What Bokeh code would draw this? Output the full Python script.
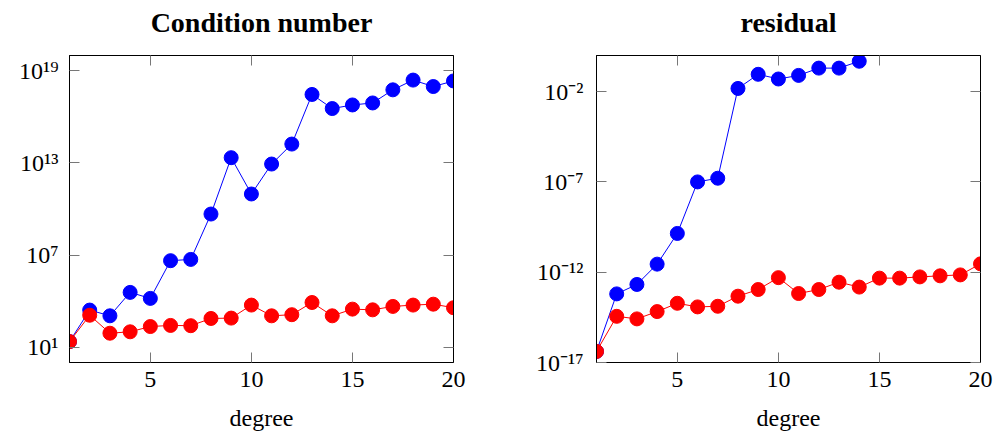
from bokeh.plotting import figure
from bokeh.layouts import row
from bokeh.models import FixedTicker, LinearAxis, LogAxis, Range1d
from bokeh.embed import file_html
from bokeh.resources import INLINE

degree = list(range(1, 21))

cond_blue = [2.3e1, 2.6e3, 1.1e3, 3.7e4, 1.5e4, 4.3e6, 5.2e6, 4.7e9, 2.2e13, 9.5e10,
             8.5e12, 1.7e14, 2.9e17, 3.5e16, 6.0e16, 8.1e16, 5.8e17, 2.5e18, 9.5e17, 2.2e18]
cond_red = [2.3e1, 1.2e3, 8.1e1, 1.0e2, 2.2e2, 2.6e2, 2.5e2, 7.4e2, 7.8e2, 5.5e3,
            1.1e3, 1.3e3, 8.1e3, 1.1e3, 3.0e3, 2.7e3, 4.5e3, 5.5e3, 6.3e3, 3.7e3]

res_degree_blue = list(range(1, 15))
res_blue = [4.1e-17, 6.3e-14, 2.1e-13, 2.8e-12, 1.4e-10, 1.0e-7, 1.6e-7, 1.5e-2, 9.1e-2,
            5.0e-2, 7.9e-2, 2.0e-1, 2.0e-1, 4.8e-1]
res_red = [4.1e-17, 3.6e-15, 2.6e-15, 6.6e-15, 1.9e-14, 1.2e-14, 1.3e-14, 4.7e-14, 1.1e-13,
           5.0e-13, 6.6e-14, 1.1e-13, 2.8e-13, 1.5e-13, 4.7e-13, 4.7e-13, 5.5e-13, 6.3e-13,
           7.1e-13, 2.9e-12]

x_ticks = [5, 10, 15, 20]
cond_ticks = [1e1, 1e7, 1e13, 1e19]
cond_tick_labels = ["10¹", "10⁷", "10¹³", "10¹⁹"]
res_ticks = [1e-17, 1e-12, 1e-7, 1e-2]
res_tick_labels = ["10⁻¹⁷", "10⁻¹²", "10⁻⁷", "10⁻²"]

FONT = "Liberation Serif"
TICK_FS = "24px"
TICK_COLOR = "#777777"


def style_axis(ax, show_labels=True, standoff=10):
    ax.major_tick_in = 10
    ax.major_tick_out = 0
    ax.minor_tick_in = 0
    ax.minor_tick_out = 0
    ax.major_tick_line_color = TICK_COLOR
    ax.axis_line_color = "black"
    ax.major_label_text_font = FONT
    if show_labels:
        ax.major_label_text_color = "black"
        ax.major_label_text_font_size = TICK_FS
        ax.major_label_standoff = standoff
    else:
        ax.major_label_text_color = None
        ax.major_label_text_font_size = "1px"
        ax.major_label_standoff = 0


def make_fig(title, width, border_left, border_right, yr, yticks, ylabels,
             xb, yb, xr, yrd, ystandoff):
    p = figure(width=width, height=434, y_axis_type="log",
               x_range=Range1d(1, 20), y_range=Range1d(*yr),
               output_backend="svg", toolbar_location=None,
               min_border_left=border_left, min_border_right=border_right,
               min_border_top=55, min_border_bottom=72)
    p.title = None
    p.grid.visible = False
    p.outline_line_color = "black"
    p.outline_line_alpha = 1.0
    p.background_fill_color = "white"
    p.border_fill_color = "white"

    p.xaxis.ticker = FixedTicker(ticks=x_ticks)
    p.xaxis.axis_label = "degree"
    p.xaxis.axis_label_text_font = FONT
    p.xaxis.axis_label_text_color = "black"
    p.xaxis.axis_label_text_font_size = TICK_FS
    p.xaxis.axis_label_text_font_style = "normal"
    p.xaxis.axis_label_standoff = 15
    style_axis(p.xaxis[0], standoff=9)

    p.yaxis.ticker = FixedTicker(ticks=yticks)
    p.yaxis.major_label_overrides = {t: l for t, l in zip(yticks, ylabels)}
    style_axis(p.yaxis[0], standoff=ystandoff)

    # mirrored top axis carries the panel title as its label
    top = LinearAxis(ticker=FixedTicker(ticks=x_ticks), axis_label=title)
    style_axis(top, show_labels=False)
    top.axis_label_text_font = FONT
    top.axis_label_text_color = "black"
    top.axis_label_text_font_size = "28px"
    top.axis_label_text_font_style = "bold"
    top.axis_label_standoff = 18
    p.add_layout(top, "above")
    right = LogAxis(ticker=FixedTicker(ticks=yticks))
    style_axis(right, show_labels=False)
    p.add_layout(right, "right")

    p.line(xb, yb, line_color="#0000ff", line_width=1)
    p.scatter(xb, yb, size=14, fill_color="#0000ff", line_color="#0000ff")
    p.line(xr, yrd, line_color="#ff0000", line_width=1)
    p.scatter(xr, yrd, size=14, fill_color="#ff0000", line_color="#ff0000")
    return p


p1 = make_fig("Condition number", 473, 69, 20, (1e0, 1e20), cond_ticks, cond_tick_labels,
              degree, cond_blue, degree, cond_red, 11)
p2 = make_fig("residual", 520, 123, 13, (1e-17, 1e0), res_ticks, res_tick_labels,
              res_degree_blue, res_blue, degree, res_red, 13)

layout = row(p1, p2)
open("out.html", "w").write(file_html(layout, INLINE))
